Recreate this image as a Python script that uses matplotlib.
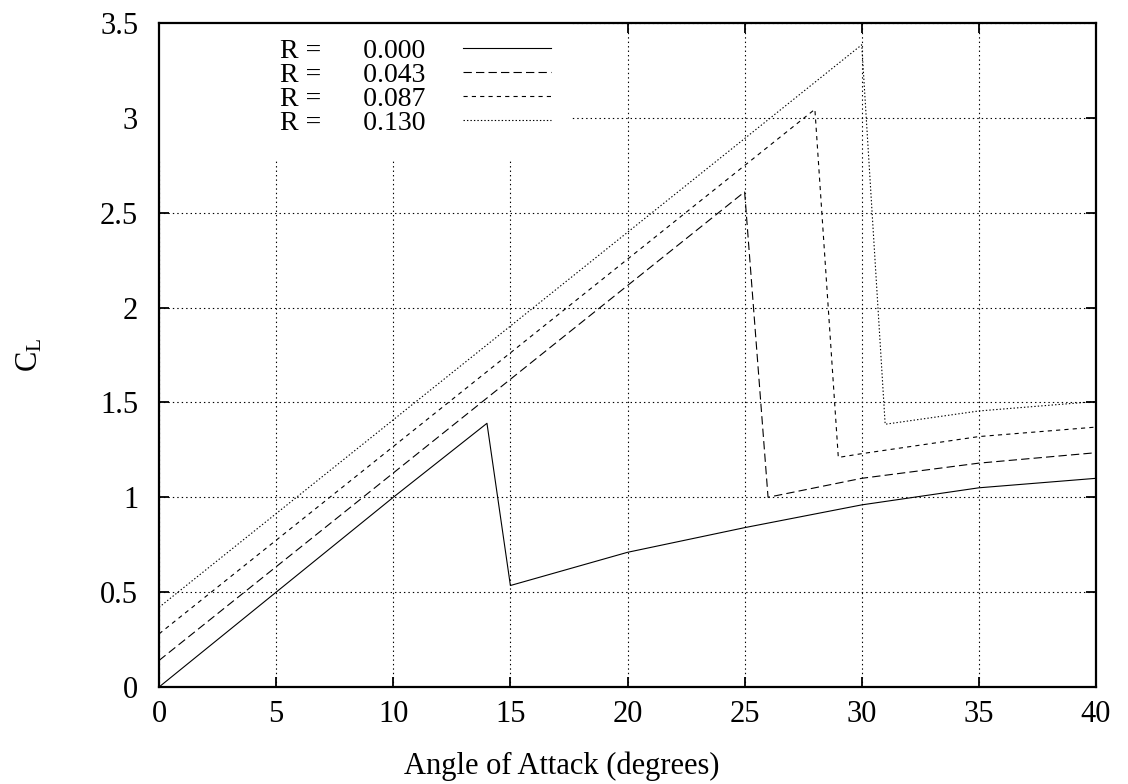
import matplotlib
matplotlib.use('Agg')
import matplotlib.pyplot as plt
from matplotlib.patches import Rectangle

plt.rcParams['font.family'] = ['Liberation Serif', 'DejaVu Serif']
plt.rcParams['font.size'] = 22
plt.rcParams['lines.scale_dashes'] = False

# valores (angulo em graus, CL)
r_valores = [0.000, 0.043, 0.087, 0.130]

alfa_0 = [0, 5, 10, 14, 15, 20, 25, 30, 35, 40]
cl_0 = [0.0, 0.5, 1.0, 1.39, 0.535, 0.71, 0.84, 0.96, 1.05, 1.10]

alfa_1 = [0, 25, 26, 30, 35, 40]
cl_1 = [0.14, 2.61, 1.0, 1.10, 1.18, 1.235]

alfa_2 = [0, 28, 29, 30, 35, 40]
cl_2 = [0.28, 3.045, 1.21, 1.23, 1.32, 1.37]

alfa_3 = [0, 30, 31, 35, 40]
cl_3 = [0.42, 3.385, 1.385, 1.455, 1.505]

x_ticks = [0, 5, 10, 15, 20, 25, 30, 35, 40]
y_ticks = [0, 0.5, 1, 1.5, 2, 2.5, 3, 3.5]
y_labels = ['0', '0.5', '1', '1.5', '2', '2.5', '3', '3.5']

estilos = ['-', (0, (6, 3)), (0, (3, 3)), (0, (1, 1.5))]

fig = plt.figure(figsize=(11.28, 7.84), dpi=100)
ax = fig.add_axes([0.141, 0.1237, 0.8306, 0.847])

series = [(alfa_0, cl_0), (alfa_1, cl_1), (alfa_2, cl_2), (alfa_3, cl_3)]
linhas = []
for (x, y), r, ls in zip(series, r_valores, estilos):
    l, = ax.plot(x, y, color='black', lw=0.8, linestyle=ls, zorder=3,
                 label='R =      %.3f' % r)
    linhas.append(l)

ax.set_xlim(0, 40)
ax.set_ylim(0, 3.5)
ax.set_xticks(x_ticks)
ax.set_yticks(y_ticks)
ax.set_yticklabels(y_labels)
ax.set_axisbelow(True)
ax.grid(True, color='black', lw=0.8, linestyle=(0, (1, 2.2)))
ax.tick_params(direction='in', length=7, width=1.3, top=True, right=True)
ax.tick_params(axis='x', pad=9)
ax.tick_params(axis='y', pad=15)
for s in ax.spines.values():
    s.set_linewidth(1.6)

# fundo branco da legenda (cobre a grade como no gnuplot)
ax.add_patch(Rectangle((0, 0.794), 0.441, 0.206, transform=ax.transAxes,
                       facecolor='white', edgecolor='none', zorder=1))

ax.legend(handles=linhas, loc='upper left', bbox_to_anchor=(0.129, 0.977),
          frameon=False, markerfirst=False, handlelength=3.17,
          handletextpad=1.35, labelspacing=-0.05, borderpad=0,
          borderaxespad=0, fontsize=20)

ax.set_xlabel('Angle of Attack (degrees)')
ax.xaxis.set_label_coords(0.430, -0.097)
ax.set_ylabel(r'$\mathregular{C_L}$')
ax.yaxis.set_label_coords(-0.1227, 0.5)

fig.savefig('out.png', dpi=100)
